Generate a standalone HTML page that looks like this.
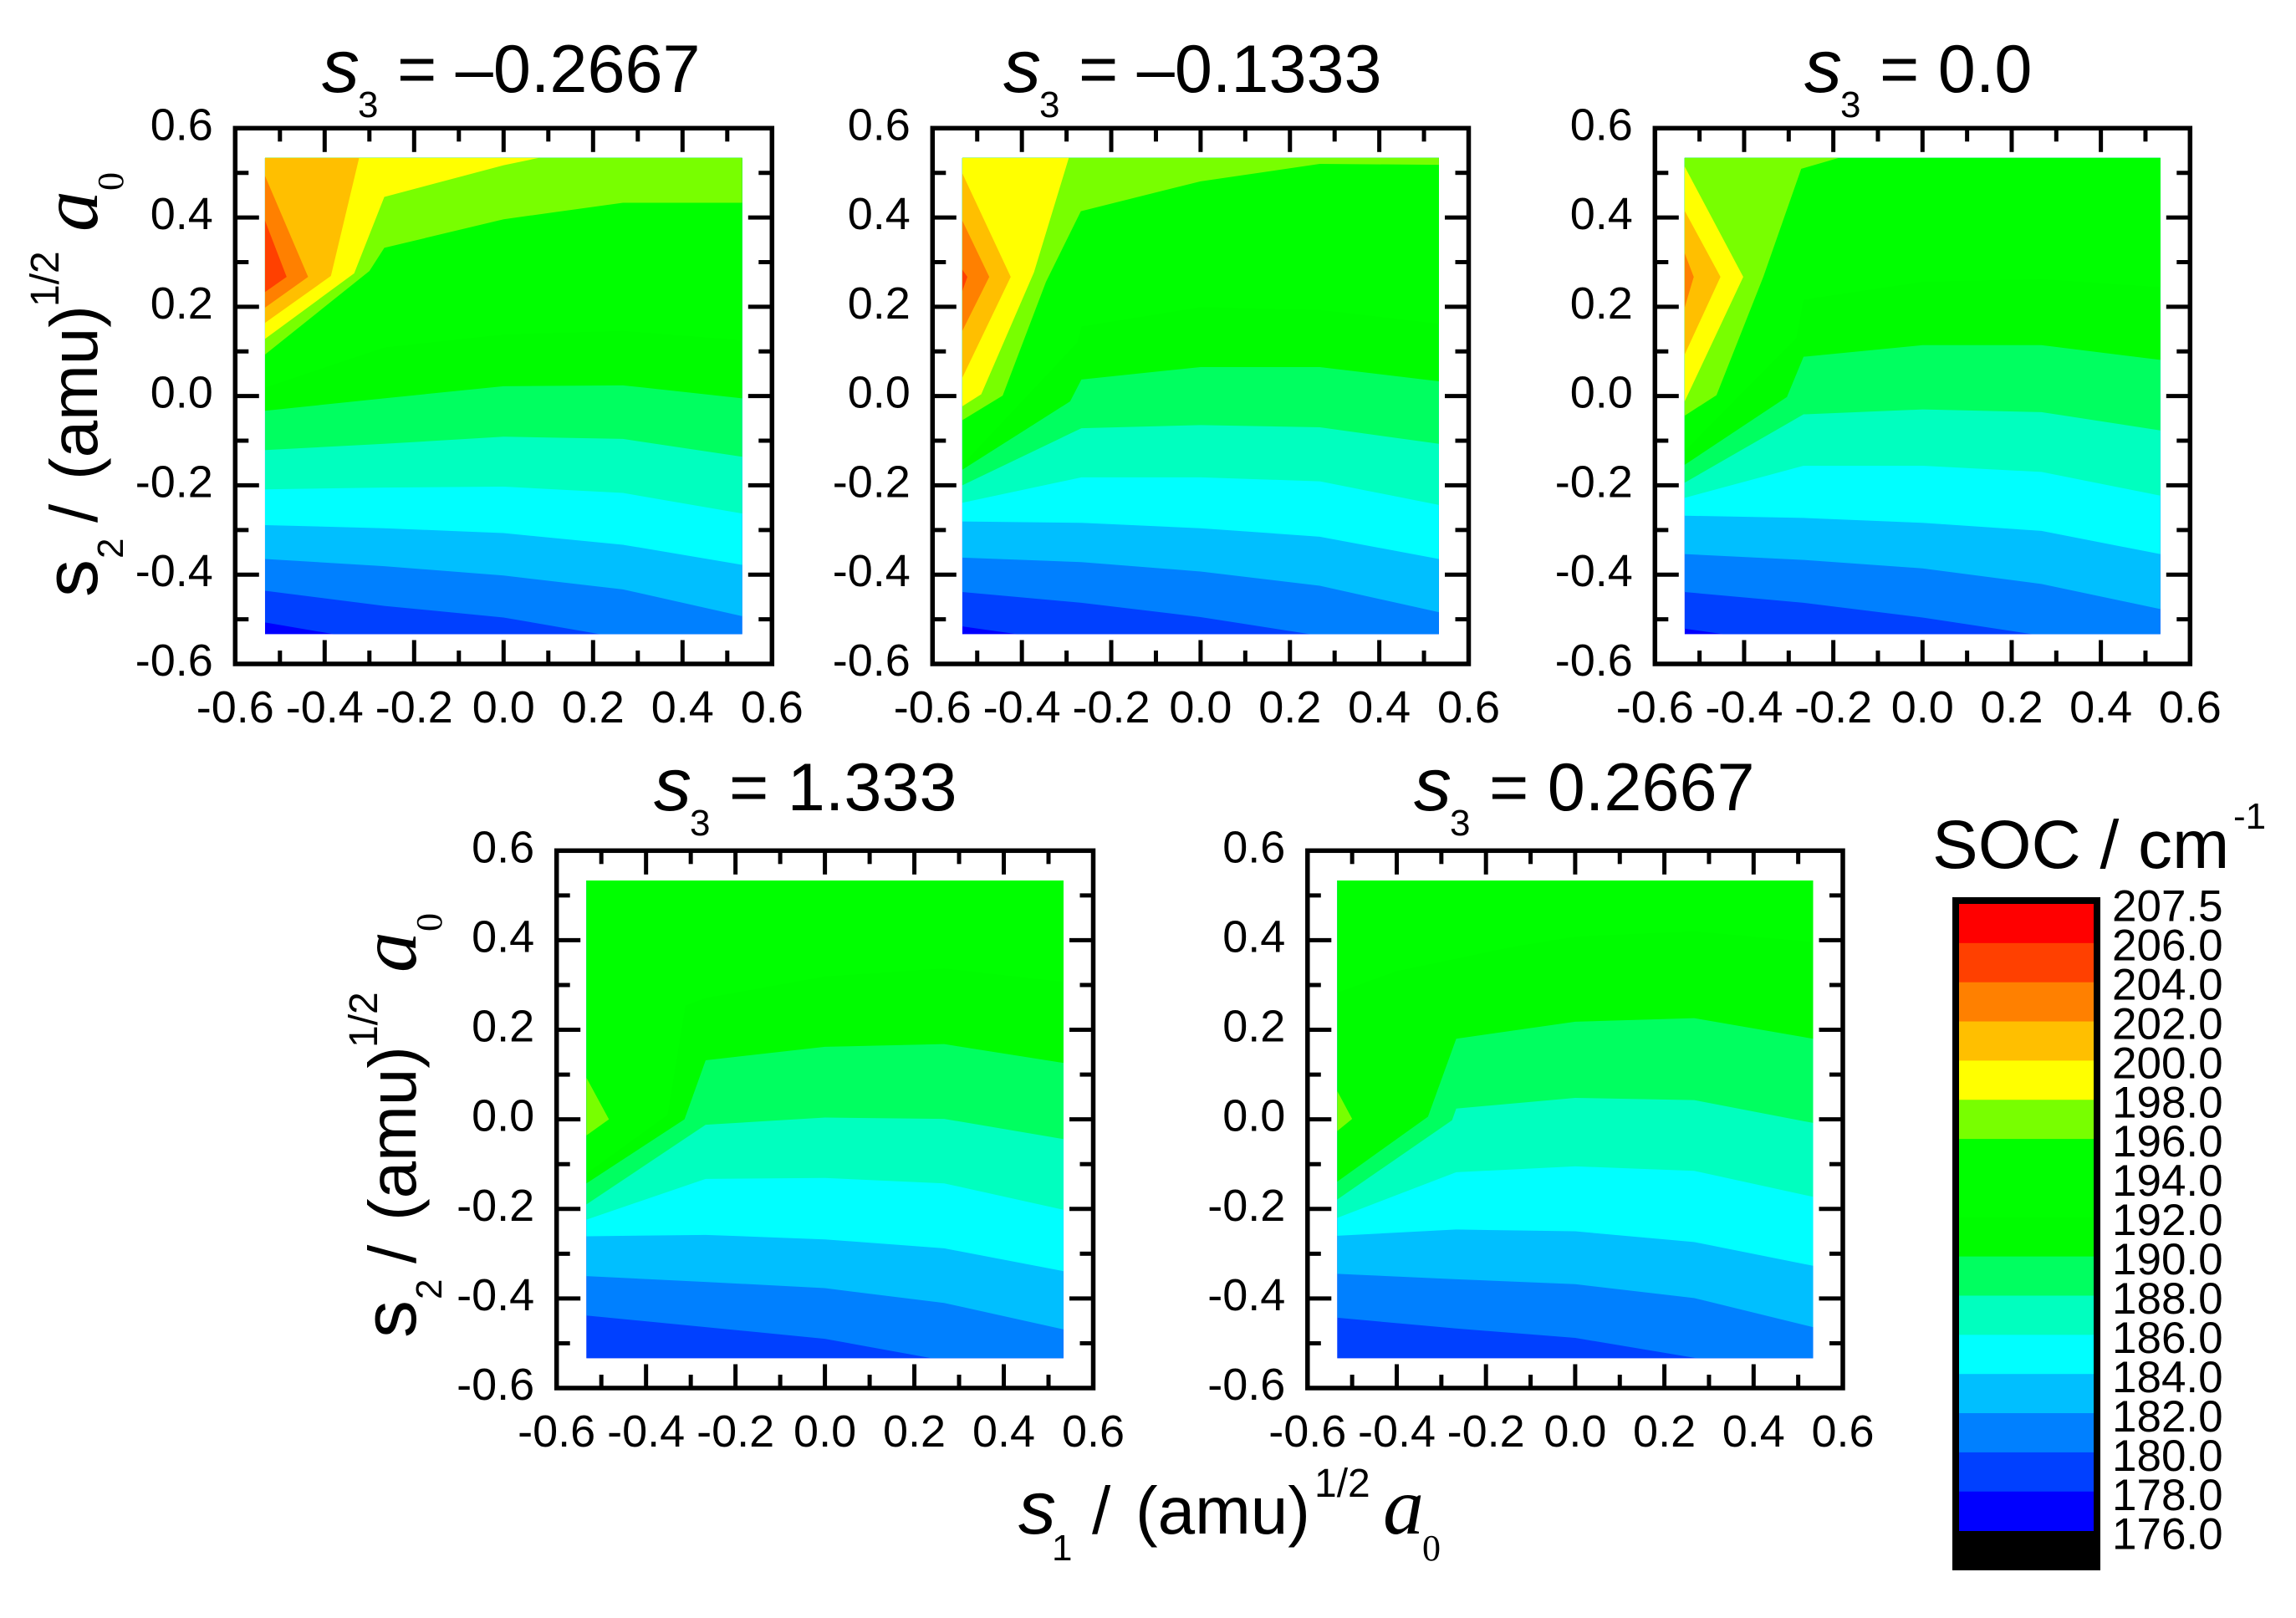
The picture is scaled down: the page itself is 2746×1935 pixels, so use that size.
<!DOCTYPE html>
<html lang="en">
<head>
<meta charset="utf-8">
<title>SOC contour panels</title>
<style>
html,body{margin:0;padding:0;background:#fff;}
svg{display:block;}
text{font-family:"Liberation Sans",sans-serif;fill:#000;}
.serif{font-family:"Liberation Serif",serif;}
</style>
</head>
<body>
<svg id="figure" xmlns="http://www.w3.org/2000/svg" width="2746" height="1935" viewBox="0 0 2746 1935">
  <rect x="0" y="0" width="2746" height="1935" fill="#fff"/>

  <g id="panel-a"></g>
  <g id="panel-b"></g>
  <g id="panel-c"></g>
  <g id="panel-d"></g>
  <g id="panel-e"></g>

  <text x="385" y="110" font-size="81"><tspan font-style="italic" font-size="90">s</tspan><tspan font-size="44" dx="-2" dy="30">3</tspan><tspan dy="-30"> = –0.2667</tspan></text>
  <text x="1200" y="110" font-size="81"><tspan font-style="italic" font-size="90">s</tspan><tspan font-size="44" dx="-2" dy="30">3</tspan><tspan dy="-30"> = –0.1333</tspan></text>
  <text x="2158" y="110" font-size="81"><tspan font-style="italic" font-size="90">s</tspan><tspan font-size="44" dx="-2" dy="30">3</tspan><tspan dy="-30"> = 0.0</tspan></text>
  <text x="782" y="969" font-size="81"><tspan font-style="italic" font-size="90">s</tspan><tspan font-size="44" dx="-2" dy="30">3</tspan><tspan dy="-30"> = 1.333</tspan></text>
  <text x="1691" y="969" font-size="81"><tspan font-style="italic" font-size="90">s</tspan><tspan font-size="44" dx="-2" dy="30">3</tspan><tspan dy="-30"> = 0.2667</tspan></text>

  <g>
    <text transform="translate(116,714) rotate(-90)" font-size="90">s</text>
    <text transform="translate(147,668) rotate(-90)" font-size="44">2</text>
    <text transform="translate(116,625) rotate(-90)" font-size="80">/</text>
    <text transform="translate(116,574) rotate(-90)" font-size="80">(amu)</text>
    <text transform="translate(70,367) rotate(-90)" font-size="48">1/2</text>
    <text class="serif" transform="translate(116,277) rotate(-90)" font-size="98" font-style="italic">a</text>
    <text class="serif" transform="translate(147,228) rotate(-90)" font-size="44">0</text>
  </g>
  <g>
    <text transform="translate(497,1600) rotate(-90)" font-size="90">s</text>
    <text transform="translate(528,1554) rotate(-90)" font-size="44">2</text>
    <text transform="translate(497,1511) rotate(-90)" font-size="80">/</text>
    <text transform="translate(497,1460) rotate(-90)" font-size="80">(amu)</text>
    <text transform="translate(451,1253) rotate(-90)" font-size="48">1/2</text>
    <text class="serif" transform="translate(497,1163) rotate(-90)" font-size="98" font-style="italic">a</text>
    <text class="serif" transform="translate(528,1114) rotate(-90)" font-size="44">0</text>
  </g>
  <g>
    <text x="1218" y="1834" font-size="90" font-style="italic">s</text>
    <text x="1258" y="1866" font-size="44">1</text>
    <text x="1306" y="1834" font-size="80">/</text>
    <text x="1358" y="1834" font-size="80">(amu)</text>
    <text x="1572" y="1790" font-size="48">1/2</text>
    <text class="serif" x="1654" y="1834" font-size="98" font-style="italic">a</text>
    <text class="serif" x="1701" y="1866" font-size="44">0</text>
  </g>

  <g id="colorbar"></g>
  <g>
    <text x="2311" y="1038" font-size="82">SOC / cm</text>
    <text x="2671" y="991" font-size="44">-1</text>
  </g>
</svg>

<script>
// Colour scale: the band sitting directly above each contour level.
const contourLevels = [206, 204, 202, 200, 198, 196, 194, 192, 190, 188, 186, 184, 182, 180, 178, 176];
const bandColors = ['#ff0000', '#ff4000', '#ff8000', '#ffbf00', '#ffff00', '#78ff00', '#00ff00', '#00ff00', '#00fc00', '#00ff60', '#00ffbf', '#00ffff', '#00bfff', '#0080ff', '#0040ff', '#0000ff'];
const colorbarLabels = ['207.5', '206.0', '204.0', '202.0', '200.0', '198.0', '196.0', '194.0', '192.0', '190.0', '188.0', '186.0', '184.0', '182.0', '180.0', '178.0', '176.0'];

// Axes
const majorTicks = [-0.6, -0.4, -0.2, 0.0, 0.2, 0.4, 0.6];
const tickLabels = ['-0.6', '-0.4', '-0.2', '0.0', '0.2', '0.4', '0.6'];
const minorTicks = [-0.5, -0.3, -0.1, 0.1, 0.3, 0.5];

// Contour boundaries: [level, [[s1, s2], ...]]
const contoursA = [
  [178, [[-0.5333, -0.507], [-0.38, -0.5333]]],
  [180, [[-0.5333, -0.436], [-0.2667, -0.470], [0, -0.496], [0.215, -0.5333]]],
  [182, [[-0.5333, -0.365], [-0.2667, -0.381], [0, -0.402], [0.2667, -0.433], [0.5333, -0.493]]],
  [184, [[-0.5333, -0.289], [-0.2667, -0.296], [0, -0.307], [0.2667, -0.333], [0.5333, -0.378]]],
  [186, [[-0.5333, -0.209], [-0.2667, -0.205], [0, -0.203], [0.2667, -0.217], [0.5333, -0.263]]],
  [188, [[-0.5333, -0.121], [-0.2667, -0.107], [0, -0.091], [0.2667, -0.096], [0.5333, -0.136]]],
  [190, [[-0.5333, -0.033], [-0.2667, -0.005], [0, 0.022], [0.2667, 0.024], [0.5333, -0.005]]],
  [192, [[-0.5333, 0.019], [-0.2667, 0.109], [0, 0.138], [0.2667, 0.146], [0.5333, 0.125]]],
  [196, [[-0.5333, 0.093], [-0.300, 0.280], [-0.2667, 0.332], [0, 0.396], [0.2667, 0.433], [0.5333, 0.433]]],
  [198, [[-0.5333, 0.128], [-0.334, 0.275], [-0.2667, 0.446], [0, 0.517], [0.078, 0.5333]]],
  [200, [[-0.5333, 0.164], [-0.386, 0.269], [-0.323, 0.5333]]],
  [202, [[-0.5333, 0.198], [-0.437, 0.267], [-0.5333, 0.493]]],
  [204, [[-0.5333, 0.233], [-0.485, 0.267], [-0.5333, 0.393]]]
];

const contoursB = [
  [178, [[-0.5333, -0.516], [-0.411, -0.5333]]],
  [180, [[-0.5333, -0.439], [-0.2667, -0.463], [0, -0.495], [0.245, -0.5333]]],
  [182, [[-0.5333, -0.362], [-0.2667, -0.372], [0, -0.393], [0.2667, -0.425], [0.5333, -0.484]]],
  [184, [[-0.5333, -0.281], [-0.2667, -0.284], [0, -0.296], [0.2667, -0.315], [0.5333, -0.365]]],
  [186, [[-0.5333, -0.239], [-0.2667, -0.182], [0, -0.182], [0.2667, -0.191], [0.5333, -0.244]]],
  [188, [[-0.5333, -0.200], [-0.2667, -0.072], [0, -0.065], [0.2667, -0.070], [0.5333, -0.107]]],
  [190, [[-0.5333, -0.165], [-0.292, -0.012], [-0.2667, 0.037], [0, 0.065], [0.2667, 0.065], [0.5333, 0.033]]],
  [192, [[-0.5333, -0.154], [-0.276, 0.120], [-0.2667, 0.156], [0, 0.199], [0.2667, 0.193], [0.5333, 0.162]]],
  [196, [[-0.5333, -0.054], [-0.443, 0.001], [-0.346, 0.256], [-0.268, 0.414], [0, 0.481], [0.2667, 0.520], [0.5333, 0.518]]],
  [198, [[-0.5333, -0.023], [-0.491, 0.004], [-0.373, 0.277], [-0.295, 0.5333]]],
  [200, [[-0.5333, 0.041], [-0.425, 0.267], [-0.5333, 0.499]]],
  [202, [[-0.5333, 0.146], [-0.473, 0.267], [-0.5333, 0.393]]],
  [204, [[-0.5333, 0.235], [-0.522, 0.267], [-0.5333, 0.283]]]
];

const contoursC = [
  [178, [[-0.5333, -0.521], [-0.447, -0.5333]]],
  [180, [[-0.5333, -0.439], [-0.2667, -0.463], [0, -0.496], [0.246, -0.5333]]],
  [182, [[-0.5333, -0.354], [-0.2667, -0.367], [0, -0.386], [0.2667, -0.421], [0.5333, -0.477]]],
  [184, [[-0.5333, -0.268], [-0.2667, -0.273], [0, -0.284], [0.2667, -0.302], [0.5333, -0.354]]],
  [186, [[-0.5333, -0.228], [-0.2667, -0.156], [0, -0.156], [0.2667, -0.170], [0.5333, -0.223]]],
  [188, [[-0.5333, -0.194], [-0.2667, -0.041], [0, -0.030], [0.2667, -0.036], [0.5333, -0.077]]],
  [190, [[-0.5333, -0.154], [-0.304, -0.002], [-0.2667, 0.088], [0, 0.114], [0.2667, 0.114], [0.5333, 0.081]]],
  [192, [[-0.5333, -0.123], [-0.283, 0.130], [-0.2667, 0.216], [0, 0.256], [0.2667, 0.262], [0.5333, 0.244]]],
  [196, [[-0.5333, -0.044], [-0.462, 0.002], [-0.357, 0.267], [-0.272, 0.509], [-0.188, 0.5333]]],
  [198, [[-0.5333, -0.012], [-0.402, 0.267], [-0.5333, 0.514]]],
  [200, [[-0.5333, 0.093], [-0.453, 0.267], [-0.5333, 0.415]]],
  [202, [[-0.5333, 0.198], [-0.513, 0.267], [-0.5333, 0.320]]]
];

const contoursD = [
  [178, [[-0.5333, -0.5333], [0.5333, -0.5333]]],
  [180, [[-0.5333, -0.438], [-0.2667, -0.464], [0, -0.490], [0.238, -0.5333]]],
  [182, [[-0.5333, -0.350], [-0.2667, -0.363], [0, -0.377], [0.2667, -0.410], [0.5333, -0.469]]],
  [184, [[-0.5333, -0.261], [-0.2667, -0.258], [0, -0.268], [0.2667, -0.288], [0.5333, -0.339]]],
  [186, [[-0.5333, -0.224], [-0.2667, -0.133], [0, -0.131], [0.2667, -0.143], [0.5333, -0.202]]],
  [188, [[-0.5333, -0.190], [-0.2667, -0.012], [0, 0.004], [0.2667, 0.001], [0.5333, -0.044]]],
  [190, [[-0.5333, -0.143], [-0.314, 0.000], [-0.2667, 0.132], [0, 0.162], [0.2667, 0.168], [0.5333, 0.126]]],
  [192, [[-0.5333, -0.121], [-0.352, 0.010], [-0.312, 0.254], [-0.2667, 0.271], [0, 0.319], [0.2667, 0.337], [0.5333, 0.307]]],
  [196, [[-0.5333, -0.036], [-0.483, 0.000], [-0.5333, 0.093]]]
];

const contoursE = [
  [178, [[-0.5333, -0.5333], [0.5333, -0.5333]]],
  [180, [[-0.5333, -0.443], [-0.2667, -0.467], [0, -0.488], [0.272, -0.5333]]],
  [182, [[-0.5333, -0.345], [-0.2667, -0.357], [0, -0.368], [0.2667, -0.399], [0.5333, -0.464]]],
  [184, [[-0.5333, -0.260], [-0.2667, -0.246], [0, -0.250], [0.2667, -0.274], [0.5333, -0.327]]],
  [186, [[-0.5333, -0.220], [-0.2667, -0.118], [0, -0.105], [0.2667, -0.115], [0.5333, -0.173]]],
  [188, [[-0.5333, -0.179], [-0.276, -0.002], [-0.2667, 0.024], [0, 0.048], [0.2667, 0.043], [0.5333, -0.008]]],
  [190, [[-0.5333, -0.139], [-0.330, 0.006], [-0.2667, 0.180], [0, 0.218], [0.2667, 0.226], [0.5333, 0.180]]],
  [192, [[-0.5333, 0.283], [-0.400, 0.331], [-0.142, 0.385], [0, 0.408], [0.2667, 0.420], [0.5333, 0.396]]],
  [196, [[-0.5333, -0.026], [-0.500, 0.001], [-0.5333, 0.063]]]
];

const svgNS = 'http://www.w3.org/2000/svg';
const gridMin = -0.5333;
const gridMax = 0.5333;

function makeScale(domainMin, domainMax, pixelMin, pixelMax) {
  return function (v) {
    return pixelMin + (v - domainMin) / (domainMax - domainMin) * (pixelMax - pixelMin);
  };
}

function colorForLevel(level) {
  return bandColors[contourLevels.indexOf(level)];
}

// Region above a contour: walk the plot boundary from the contour's end back to its start.
function closeRegion(points) {
  const out = points.slice();
  const last = points[points.length - 1];
  const tol = 0.002;
  const onLeft = last[0] <= gridMin + tol;
  const onRight = last[0] >= gridMax - tol;
  const onBottom = last[1] <= gridMin + tol;
  if (onLeft) {
    return out;
  }
  if (onBottom && !onRight) {
    out.push([gridMax, gridMin]);
  }
  if (onBottom || onRight) {
    out.push([gridMax, gridMax]);
  }
  out.push([gridMin, gridMax]);
  return out;
}

function addLine(parent, x1, y1, x2, y2, width, name) {
  const el = document.createElementNS(svgNS, 'line');
  el.setAttribute('x1', x1);
  el.setAttribute('y1', y1);
  el.setAttribute('x2', x2);
  el.setAttribute('y2', y2);
  el.setAttribute('stroke', '#000');
  el.setAttribute('stroke-width', width);
  
  
  parent.appendChild(el);
}

function addLabel(parent, x, y, anchor, str, name, size) {
  const el = document.createElementNS(svgNS, 'text');
  el.setAttribute('x', x);
  el.setAttribute('y', y);
  el.setAttribute('text-anchor', anchor);
  el.setAttribute('font-size', size);
  
  
  el.textContent = str;
  parent.appendChild(el);
}

function drawPanel(id, contours, left, right, top, bottom) {
  const g = document.getElementById(id);
  const x = makeScale(-0.6, 0.6, left, right);
  const y = makeScale(-0.6, 0.6, bottom, top);

  // Base band (lowest colour) across the whole sampled grid
  const base = document.createElementNS(svgNS, 'rect');
  base.setAttribute('x', x(gridMin));
  base.setAttribute('y', y(gridMax));
  base.setAttribute('width', x(gridMax) - x(gridMin));
  base.setAttribute('height', y(gridMin) - y(gridMax));
  base.setAttribute('fill', colorForLevel(176));
  
  
  g.appendChild(base);

  contours.forEach(function (c) {
    const level = c[0];
    const pts = closeRegion(c[1]);
    const poly = document.createElementNS(svgNS, 'polygon');
    poly.setAttribute('points', pts.map(function (p) { return x(p[0]).toFixed(2) + ',' + y(p[1]).toFixed(2); }).join(' '));
    poly.setAttribute('fill', colorForLevel(level));
    
    
    g.appendChild(poly);
  });

  const frame = document.createElementNS(svgNS, 'rect');
  frame.setAttribute('x', left);
  frame.setAttribute('y', top);
  frame.setAttribute('width', right - left);
  frame.setAttribute('height', bottom - top);
  frame.setAttribute('fill', 'none');
  frame.setAttribute('stroke', '#000');
  frame.setAttribute('stroke-width', '5.5');
  
  
  g.appendChild(frame);

  majorTicks.forEach(function (v, i) {
    if (i > 0 && i < majorTicks.length - 1) {
      addLine(g, x(v), top, x(v), top + 28.5, 5, 'x-major-tick-top');
      addLine(g, x(v), bottom, x(v), bottom - 28.5, 5, 'x-major-tick-bottom');
      addLine(g, left, y(v), left + 28.5, y(v), 5, 'y-major-tick-left');
      addLine(g, right, y(v), right - 28.5, y(v), 5, 'y-major-tick-right');
    }
    addLabel(g, x(v), bottom + 70, 'middle', tickLabels[i], 'x-tick-label', 54);
    addLabel(g, left - 26.5, y(v) + 14, 'end', tickLabels[i], 'y-tick-label', 54);
  });
  minorTicks.forEach(function (v) {
    addLine(g, x(v), top, x(v), top + 16, 5, 'x-minor-tick-top');
    addLine(g, x(v), bottom, x(v), bottom - 16, 5, 'x-minor-tick-bottom');
    addLine(g, left, y(v), left + 16, y(v), 5, 'y-minor-tick-left');
    addLine(g, right, y(v), right - 16, y(v), 5, 'y-minor-tick-right');
  });
}

function drawColorbar() {
  const g = document.getElementById('colorbar');
  const bandTop = 1081;
  const bandStep = 46.85;
  const band = function (i) { return bandTop + i * bandStep; };

  const outer = document.createElementNS(svgNS, 'rect');
  outer.setAttribute('x', 2335);
  outer.setAttribute('y', 1073);
  outer.setAttribute('width', 177);
  outer.setAttribute('height', 805);
  outer.setAttribute('fill', '#000');
  
  
  g.appendChild(outer);

  bandColors.forEach(function (color, i) {
    const r = document.createElementNS(svgNS, 'rect');
    r.setAttribute('x', 2343);
    r.setAttribute('y', band(i));
    r.setAttribute('width', 161);
    r.setAttribute('height', bandStep + 0.4);
    r.setAttribute('fill', color);
    
    
    g.appendChild(r);
  });

  colorbarLabels.forEach(function (str, i) {
    addLabel(g, 2526, band(i) + 20.5 + i * 0.1, 'start', str, 'colorbar-label', 53);
  });
}

drawPanel('panel-a', contoursA, 281.3, 923.3, 153.3, 794);
drawPanel('panel-b', contoursB, 1115.3, 1756.5, 153.3, 794);
drawPanel('panel-c', contoursC, 1979.3, 2619.3, 153.3, 794);
drawPanel('panel-d', contoursD, 665.7, 1307.5, 1017.3, 1660);
drawPanel('panel-e', contoursE, 1563.8, 2204, 1017.3, 1660);
drawColorbar();
</script>
</body>
</html>
